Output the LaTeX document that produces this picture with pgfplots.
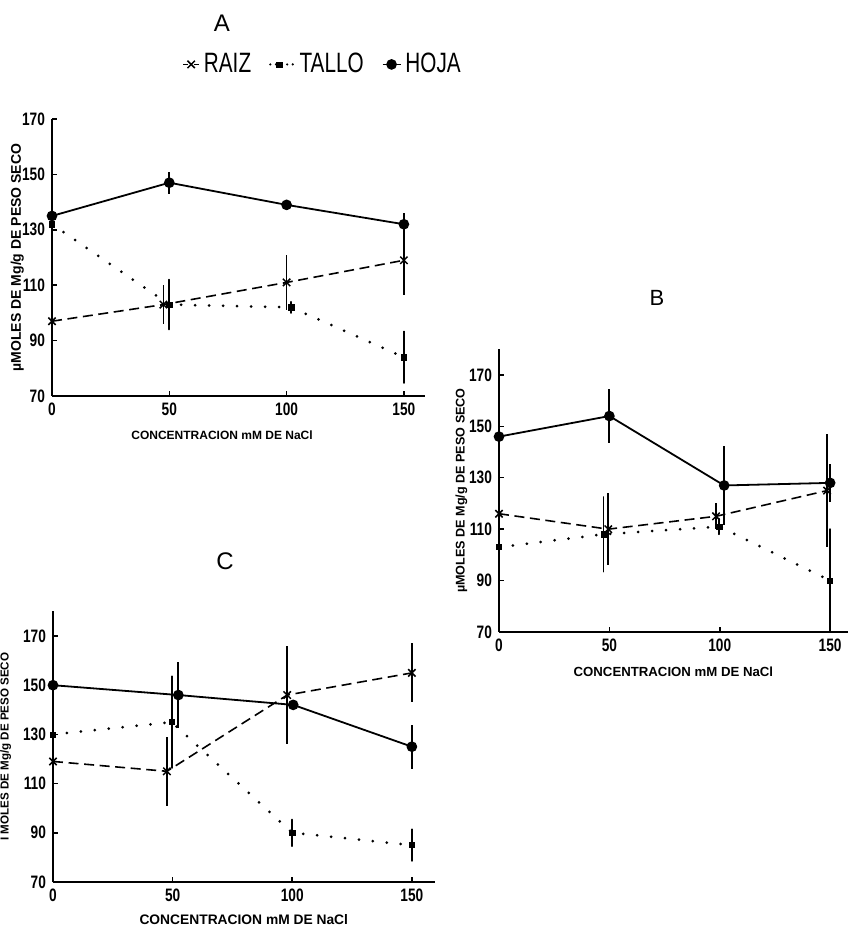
\documentclass[border=0pt]{standalone}
\usepackage{fontspec}
\setmainfont{Liberation Sans}
\newfontfamily\condfont{Liberation Sans}[FakeStretch=0.76]
\newfontfamily\legfont{Liberation Sans}[FakeStretch=0.74]
\usepackage{pgfplots}
\pgfplotsset{compat=1.18}
\usepackage{pgfplotstable}

% Mg content (umol/g dry weight) vs NaCl concentration; e = half length of error bar
\pgfplotstableread{
x     y    e
0     97   0
47.5  103  7
100   111  10
150   119  12.5
}\Araiz
\pgfplotstableread{
x     y    e
0     132  1
50    103  9
102   102  2
150   84   9.3
}\Atallo
\pgfplotstableread{
x     y    e
0     135  0
50    147  4
100   139  1
150   132  4
}\Ahoja

\pgfplotstableread{
x     y    e
0     116  0
49.5  110  14
98.3  115  5
148.6 125  22
}\Braiz
\pgfplotstableread{
x     y    e
0     103  0
47.3  108  14.5
99.8  111  3
150   90   20
}\Btallo
\pgfplotstableread{
x     y    e
0     146  0
50    154  10.4
102   127  15.5
150   128  7.5
}\Bhoja

\pgfplotstableread{
x     y    e
0     119  0
47.6  115  14
97.9  146  20
150   155  12
}\Craiz
\pgfplotstableread{
x     y    e
0     130  0
49.6  135  18.6
100   90   5.4
150   85   6.4
}\Ctallo
\pgfplotstableread{
x     y    e
0     150  0
52.4  146  13.5
100.4 142  2
150   125  9
}\Choja

\pgfplotsset{
  panel/.style={
    scale only axis, clip=false,
    axis x line=bottom, axis y line=left,
    axis line style={-, line width=0.85pt},
    tick align=inside, major tick length=2.5pt,
    tick style={line width=0.75pt, black},
    xmin=0, ymin=70,
    xtick={0,50,100,150}, ytick={70,90,...,170},
    /pgf/number format/assume math mode=true,
    tick label style={font=\condfont\bfseries\fontsize{9}{10}\selectfont},
    xlabel={CONCENTRACION mM DE NaCl},
    every axis x label/.style={at={(axis description cs:0.5,-0.135)}, anchor=center},
    every axis y label/.style={rotate=90, anchor=center},
  },
  errs/.style={
    /pgfplots/error bars/y dir=both,
    /pgfplots/error bars/y explicit,
    /pgfplots/error bars/error mark=none,
    /pgfplots/error bars/error bar style={solid, line width=0.9pt, black},
  },
  raiz/.style={black, line width=0.8pt, dash pattern=on 5pt off 2.8pt,
    mark=x, mark size=2.6pt, mark options={solid, line width=0.75pt}, errs},
  tallo/.style={black, line width=1.5pt, dash pattern=on 0pt off 7pt, line cap=round,
    mark=square*, mark size=1.3pt, mark options={solid, line width=0.3pt}, errs},
  hoja/.style={black, line width=0.9pt, solid,
    mark=*, mark size=2.2pt, mark options={solid}, errs},
  % short legend samples
  legall/.style={legend image code/.code={\draw[mark repeat=2, mark phase=2, ##1]
    plot coordinates {(0pt,0pt) (4.5pt,0pt) (9pt,0pt)};}},
  legraiz/.style={legend image code/.code={\draw[mark repeat=2, mark phase=2, ##1, dash pattern=on 2.4pt off 3.2pt]
    plot coordinates {(0pt,0pt) (4pt,0pt) (8pt,0pt)};}},
  legtallo/.style={legend image code/.code={\draw[mark repeat=2, mark phase=2, ##1, line width=1.2pt, dash pattern=on 0pt off 2.8pt]
    plot coordinates {(0pt,0pt) (4.5pt,0pt) (12pt,0pt)};}},
}

\begin{document}
\begin{tikzpicture}
\useasboundingbox (0pt,0pt) rectangle (425pt,464pt);

% panel titles
\node[font=\fontsize{12}{13}\selectfont] at (111pt,452.5pt) {A};
\node[font=\fontsize{11}{12}\selectfont] at (328.5pt,315pt) {B};
\node[font=\fontsize{12}{13}\selectfont] at (112.5pt,183.5pt) {C};

% ---- A ----
\begin{axis}[panel, at={(26pt,266pt)}, width=186.5pt, height=138.5pt,
  xmax=159, ymax=170,
  ylabel={µMOLES DE Mg/g DE PESO SECO},
  ylabel style={at={(axis description cs:-0.093,0.5)}, font=\bfseries\fontsize{7}{8}\selectfont},
  xlabel style={at={(axis description cs:0.456,-0.141)}, font=\bfseries\fontsize{6}{7}\selectfont},
  legend style={at={(0.728,1.197)}, anchor=center, draw=none, fill=none,
    legend columns=-1, inner sep=0pt,
    font=\legfont\fontsize{14}{15}\selectfont,
    /tikz/every even column/.append style={column sep=7pt}},
  legall,
]
\addplot[raiz, legraiz] table[x=x, y=y, y error=e] {\Araiz};
\addlegendentry{RAIZ}
\addplot[tallo, legtallo] table[x=x, y=y, y error=e] {\Atallo};
\addlegendentry{TALLO}
\addplot[hoja] table[x=x, y=y, y error=e] {\Ahoja};
\addlegendentry{HOJA}
\end{axis}

% ---- B ----
\begin{axis}[panel, at={(249.5pt,148pt)}, width=174.4pt, height=141.4pt,
  xmax=158, ymax=180,
  ylabel={µMOLES DE Mg/g DE PESO SECO},
  ylabel style={at={(axis description cs:-0.108,0.5)}, font=\bfseries\fontsize{6.3}{7}\selectfont},
  xlabel style={at={(axis description cs:0.5,-0.141)}, font=\bfseries\fontsize{6.6}{7.5}\selectfont},
]
\addplot[raiz] table[x=x, y=y, y error=e] {\Braiz};
\addplot[tallo] table[x=x, y=y, y error=e] {\Btallo};
\addplot[hoja] table[x=x, y=y, y error=e] {\Bhoja};
\end{axis}

% ---- C ----
\begin{axis}[panel, at={(26.5pt,23pt)}, width=190.8pt, height=135.3pt,
  xmax=159.5, ymax=180,
  ylabel={I MOLES DE Mg/g DE PESO SECO},
  ylabel style={at={(axis description cs:-0.124,0.5)}, font=\bfseries\fontsize{5.8}{7}\selectfont},
  xlabel style={at={(axis description cs:0.5,-0.14)}, font=\bfseries\fontsize{6.9}{8}\selectfont},
]
\addplot[raiz] table[x=x, y=y, y error=e] {\Craiz};
\addplot[tallo] table[x=x, y=y, y error=e] {\Ctallo};
\addplot[hoja] table[x=x, y=y, y error=e] {\Choja};
\end{axis}
\end{tikzpicture}
\end{document}
